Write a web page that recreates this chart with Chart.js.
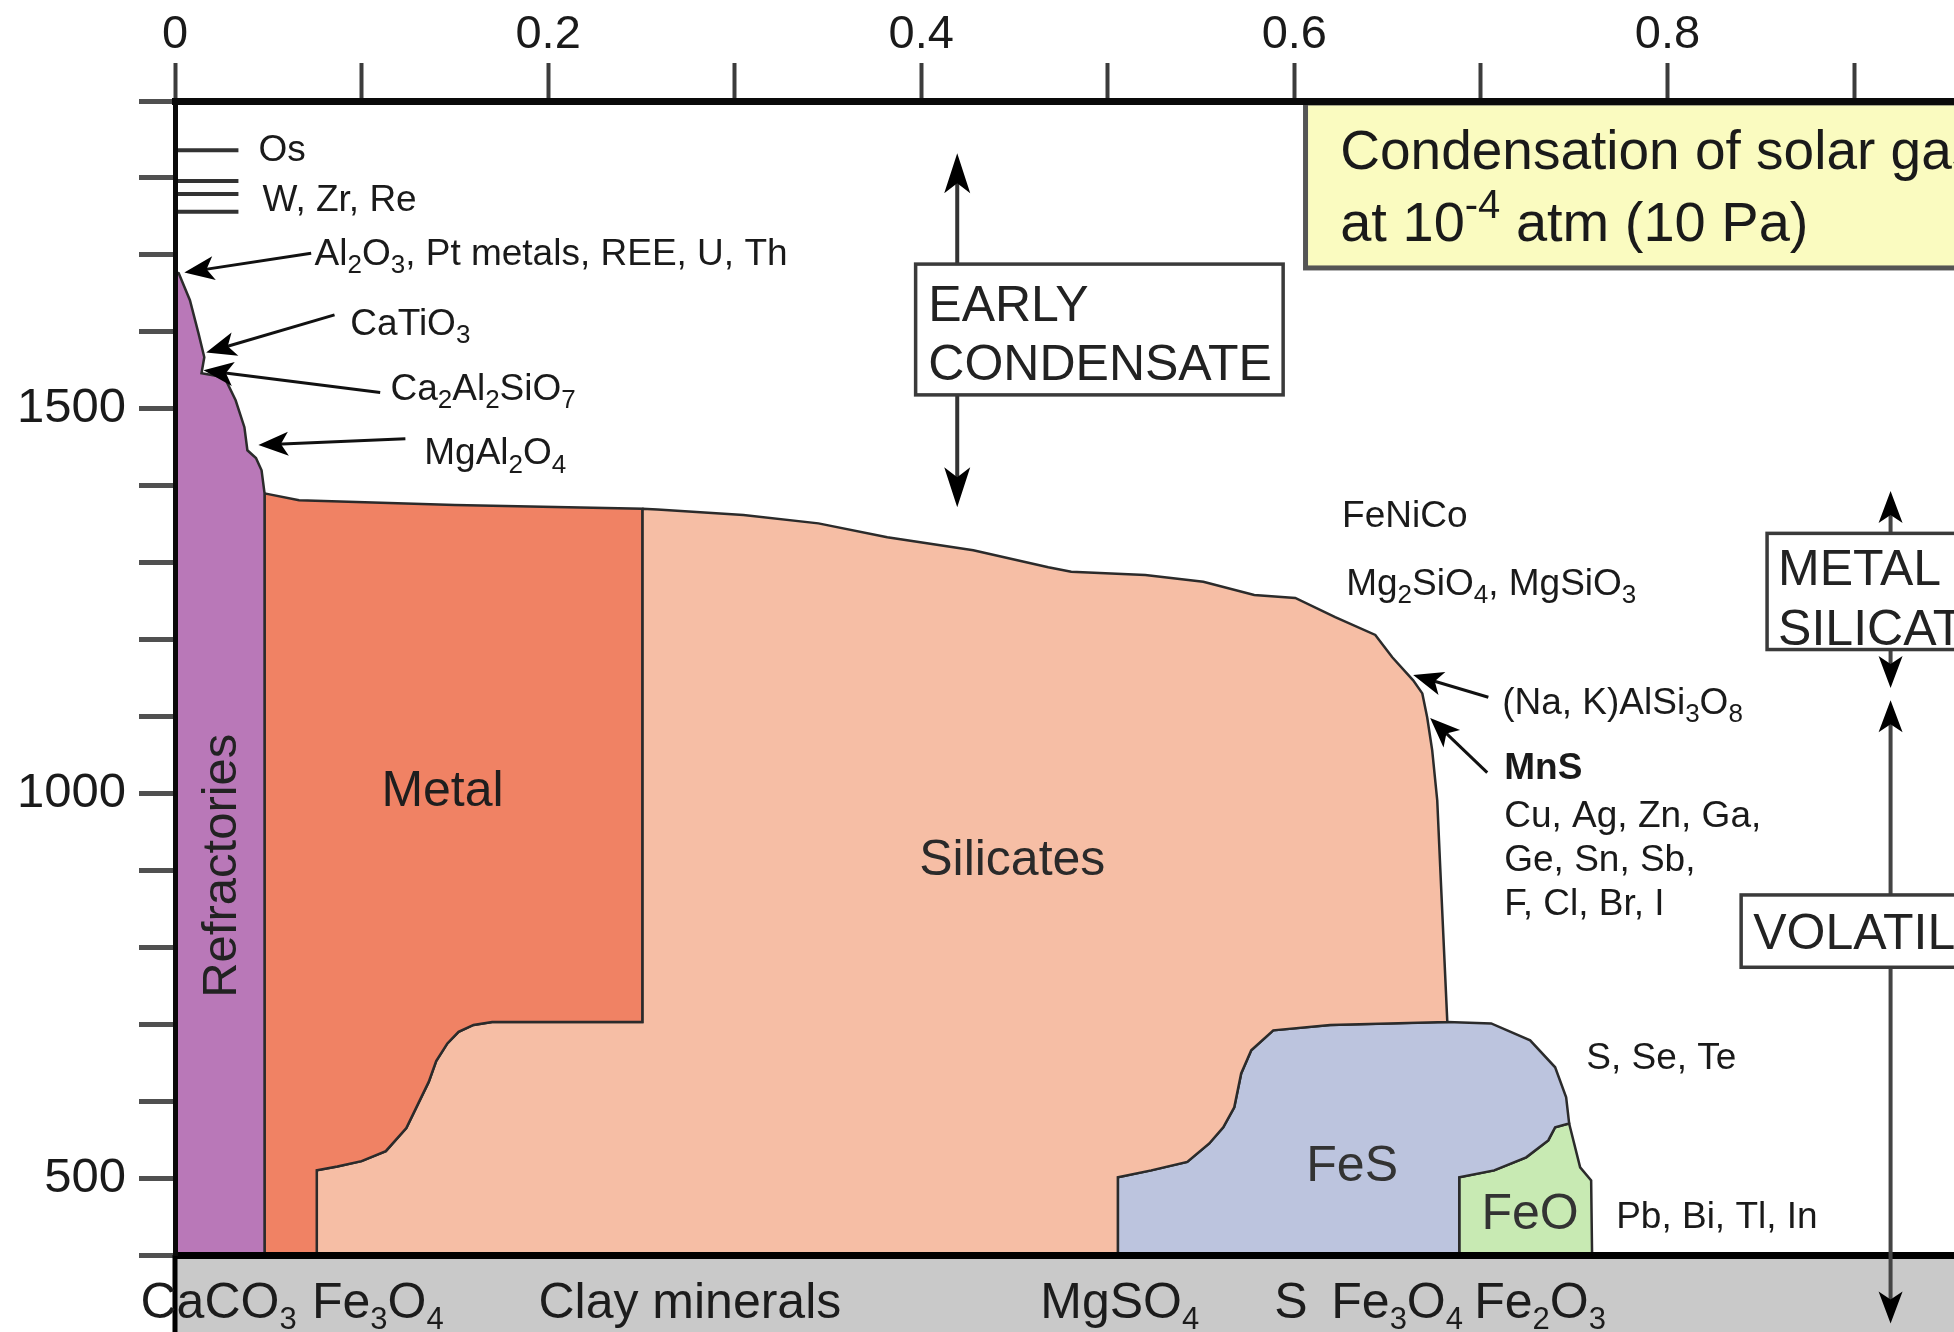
<!DOCTYPE html>
<html lang="en">
<head>
<meta charset="UTF-8">
<title>Condensation of solar gas</title>
<script src="https://cdn.jsdelivr.net/npm/chart.js"></script>
<style>
  body { margin: 0; padding: 0; overflow: hidden; background: white; }
  #wrap { width: 1954px; height: 1332px; }
</style>
</head>
<body>
<div id="wrap"><canvas id="chart"></canvas></div>
<script>
const FONT = "'Liberation Sans', Arial, sans-serif";

// axes
const xTickValues = [0, 0.1, 0.2, 0.3, 0.4, 0.5, 0.6, 0.7, 0.8, 0.9];
const xTickLabels = ['0', '', '0.2', '', '0.4', '', '0.6', '', '0.8', ''];
const yTickValues = [400, 500, 600, 700, 800, 900, 1000, 1100, 1200, 1300, 1400, 1500, 1600, 1700, 1800, 1900];
const yTickLabels = ['', '500', '', '', '', '', '1000', '', '', '', '', '1500', '', '', '', ''];

// region boundaries, [fraction condensed, temperature]
const refractoryEdge = [[0, 1678], [0.002, 1676], [0.008, 1641], [0.0126, 1598], [0.0157, 1567], [0.0142, 1546],
  [0.0265, 1541], [0.0325, 1511], [0.0372, 1476], [0.0388, 1446], [0.0434, 1436], [0.0464, 1420], [0.048, 1390]];
const metalTop = [[0.048, 1390], [0.0665, 1381], [0.15, 1375], [0.2505, 1370]];
const metalSilicateEdge = [[0.2505, 1370], [0.2505, 703], [0.17, 703], [0.16, 699], [0.152, 690], [0.146, 675],
  [0.14, 652], [0.136, 625], [0.131, 600], [0.124, 565], [0.113, 535], [0.1, 522], [0.087, 515], [0.076, 510], [0.076, 400]];
const silicateTop = [[0.2505, 1370], [0.2586, 1369], [0.3047, 1362], [0.3449, 1351], [0.3818, 1333], [0.4279, 1316],
  [0.4681, 1294], [0.4804, 1288], [0.5201, 1284], [0.5512, 1275], [0.5785, 1258], [0.6005, 1254], [0.6219, 1229],
  [0.6434, 1206], [0.6525, 1177], [0.6637, 1147], [0.6686, 1130], [0.6712, 1099], [0.6739, 1056], [0.6766, 991],
  [0.6782, 904], [0.6798, 819], [0.682, 703]];
const fesLeftTop = [[0.5054, 400], [0.5054, 501], [0.5233, 510], [0.5426, 521], [0.5544, 545], [0.5619, 566],
  [0.5678, 592], [0.5715, 636], [0.5769, 666], [0.5887, 692], [0.6192, 699], [0.682, 703]];
const fesRightTop = [[0.682, 703], [0.7055, 701], [0.7264, 679], [0.7398, 644], [0.7457, 605], [0.7473, 571]];
const fesFeoEdge = [[0.7473, 571], [0.7398, 566], [0.7361, 549], [0.7243, 527], [0.7071, 510], [0.6884, 501], [0.6884, 400]];
const feoRightEdge = [[0.7473, 571], [0.7532, 514], [0.7591, 497], [0.7596, 400]];

// condensation lines of the first metals (Os, W, Zr, Re)
const metalLineTemps = [1836, 1796, 1779, 1756];
const metalLineEnd = 0.034;

// mineral names under the plot
const bandLabels = ['CaCO{_3}', 'Fe{_3}O{_4}', 'Clay minerals', 'MgSO{_4}', 'S', 'Fe{_3}O{_4}', 'Fe{_2}O{_3}'];
const bandLabelX = [-0.0185, 0.0734, 0.1948, 0.4638, 0.5892, 0.6198, 0.6964];

const annotationLabels = [
  {text: 'Os', x: 0.0447, y: 1839},
  {text: 'W, Zr, Re', x: 0.0469, y: 1774},
  {text: 'Al{_2}O{_3}, Pt metals, REE, U, Th', x: 0.0748, y: 1704},
  {text: 'CaTiO{_3}', x: 0.094, y: 1613},
  {text: 'Ca{_2}Al{_2}SiO{_7}', x: 0.1155, y: 1529},
  {text: 'MgAl{_2}O{_4}', x: 0.1336, y: 1445},
  {text: 'FeNiCo', x: 0.6256, y: 1364},
  {text: 'Mg{_2}SiO{_4}, MgSiO{_3}', x: 0.6278, y: 1275},
  {text: '(Na, K)AlSi{_3}O{_8}', x: 0.7114, y: 1121},
  {text: 'MnS', x: 0.7125, y: 1036, bold: true},
  {text: 'Cu, Ag, Zn, Ga,', x: 0.7125, y: 973},
  {text: 'Ge, Sn, Sb,', x: 0.7125, y: 917},
  {text: 'F, Cl, Br, I', x: 0.7125, y: 859},
  {text: 'S, Se, Te', x: 0.7565, y: 659},
  {text: 'Pb, Bi, Tl, In', x: 0.7725, y: 452}
];
// tail x, tail y, head x, head y
const pointerArrows = [
  [0.073, 1702, 0.005, 1677],
  [0.0855, 1622, 0.0167, 1573],
  [0.110, 1521, 0.0153, 1550],
  [0.1235, 1461, 0.0447, 1453],
  [0.704, 1125, 0.6637, 1154],
  [0.7034, 1027, 0.6728, 1098]
];
const regionLabels = [
  {text: 'Metal', x: 0.1434, y: 1007, color: '#1e1e1e'},
  {text: 'Silicates', x: 0.4488, y: 917, color: '#2a2a2a'},
  {text: 'FeS', x: 0.631, y: 519, color: '#333'},
  {text: 'FeO', x: 0.7264, y: 457, color: '#333'}
];

// polygons
const refractories = [[0, 400], ...refractoryEdge, [0.048, 400], [0, 400]];
const metal = [...metalTop, ...metalSilicateEdge.slice(1), [0.048, 400], metalTop[0]];
const silicates = [...silicateTop, ...fesLeftTop.slice().reverse().slice(1), ...metalSilicateEdge.slice().reverse()];
const fes = [...fesLeftTop, ...fesRightTop.slice(1), ...fesFeoEdge.slice(1), fesLeftTop[0]];
const feo = [...fesFeoEdge.slice().reverse(), ...feoRightEdge.slice(1), [0.6884, 400]];

const toPts = arr => arr.map(p => ({x: p[0], y: p[1]}));

function region(label, pts, color) {
  return {
    label: label, data: toPts(pts), fill: 'shape', backgroundColor: color,
    borderColor: '#2b2b2b', borderWidth: 2.5, pointRadius: 0, tension: 0
  };
}

const datasets = [
  region('Refractories', refractories, '#b978b8'),
  region('Metal', metal, '#f08264'),
  region('Silicates', silicates, '#f6bea5'),
  region('FeS', fes, '#bcc4de'),
  region('FeO', feo, '#c8eab3')
];
metalLineTemps.forEach(t => {
  datasets.push({
    data: [{x: 0, y: t}, {x: metalLineEnd, y: t}], fill: false,
    borderColor: '#333', borderWidth: 4, pointRadius: 0
  });
});

function parseRich(str) {
  const parts = [];
  const re = /\{([_^])([^}]*)\}/g;
  let last = 0, m;
  while ((m = re.exec(str))) {
    if (m.index > last) parts.push({t: str.slice(last, m.index), k: ''});
    parts.push({t: m[2], k: m[1]});
    last = re.lastIndex;
  }
  if (last < str.length) parts.push({t: str.slice(last), k: ''});
  return parts;
}

function drawRich(ctx, str, x, y, size, opts) {
  opts = opts || {};
  const weight = opts.bold ? 'bold ' : '';
  const parts = parseRich(str);
  const fontFor = k => weight + (k ? Math.round(size * (opts.subScale || 0.65)) : size) + 'px ' + FONT;
  let w = 0;
  parts.forEach(p => { ctx.font = fontFor(p.k); p.w = ctx.measureText(p.t).width; w += p.w; });
  let cx = opts.align === 'center' ? x - w / 2 : x;
  ctx.textAlign = 'left';
  ctx.textBaseline = 'alphabetic';
  ctx.fillStyle = opts.color || '#1a1a1a';
  const base = y + size * 0.36;
  parts.forEach(p => {
    ctx.font = fontFor(p.k);
    const dy = p.k === '_' ? size * 0.22 : (p.k === '^' ? -size * 0.4 : 0);
    ctx.fillText(p.t, cx, base + dy);
    cx += p.w;
  });
}

function arrow(ctx, x1, y1, x2, y2, len, half, lw, color) {
  const a = Math.atan2(y2 - y1, x2 - x1);
  const c = Math.cos(a), s = Math.sin(a);
  const bx = x2 - len * c, by = y2 - len * s;
  ctx.strokeStyle = color;
  ctx.lineWidth = lw;
  ctx.beginPath();
  ctx.moveTo(x1, y1);
  ctx.lineTo(x2 - len * 0.6 * c, y2 - len * 0.6 * s);
  ctx.stroke();
  ctx.fillStyle = '#000';
  ctx.beginPath();
  ctx.moveTo(x2, y2);
  ctx.lineTo(bx - half * s, by + half * c);
  ctx.lineTo(x2 - len * 0.75 * c, y2 - len * 0.75 * s);
  ctx.lineTo(bx + half * s, by - half * c);
  ctx.closePath();
  ctx.fill();
}

function textBox(ctx, x0, y0, x1, y1, fill, stroke, lw) {
  ctx.fillStyle = fill;
  ctx.fillRect(x0, y0, x1 - x0, y1 - y0);
  ctx.strokeStyle = stroke;
  ctx.lineWidth = lw;
  ctx.strokeRect(x0, y0, x1 - x0, y1 - y0);
}

const decorPlugin = {
  id: 'decor',
  beforeDatasetsDraw(chart) {
    const ctx = chart.ctx, a = chart.chartArea;
    ctx.save();
    ctx.fillStyle = '#c9c9c9';
    ctx.fillRect(a.left, a.bottom, chart.width - a.left, chart.height - a.bottom);
    ctx.restore();
  },
  afterDatasetsDraw(chart) {
    const ctx = chart.ctx, a = chart.chartArea;
    const px = v => chart.scales.x.getPixelForValue(v);
    const py = v => chart.scales.y.getPixelForValue(v);
    ctx.save();

    // bottom line and axis running through the mineral band
    ctx.fillStyle = '#000';
    ctx.fillRect(a.left - 2, a.bottom - 3, chart.width, 7);
    ctx.fillRect(a.left - 2.5, a.bottom, 5, chart.height - a.bottom);

    bandLabels.forEach((t, i) => drawRich(ctx, t, px(bandLabelX[i]), 1300, 50, {color: '#1c1c1c', subScale: 0.62}));

    pointerArrows.forEach(p => arrow(ctx, px(p[0]), py(p[1]), px(p[2]), py(p[3]), 30, 12, 3, '#111'));
    annotationLabels.forEach(l => drawRich(ctx, l.text, px(l.x), py(l.y), 37, {bold: l.bold, subScale: 0.7}));

    regionLabels.forEach(l => drawRich(ctx, l.text, px(l.x), py(l.y), 50, {align: 'center', color: l.color}));
    ctx.save();
    ctx.translate(px(0.0233), py(906));
    ctx.rotate(-Math.PI / 2);
    drawRich(ctx, 'Refractories', 0, 0, 49, {align: 'center', color: '#222'});
    ctx.restore();

    // early condensate box and its arrows
    const ex = px(0.4193);
    arrow(ctx, ex, py(1688), ex, py(1832), 40, 13, 4, '#333');
    arrow(ctx, ex, py(1518), ex, py(1372), 40, 13, 4, '#333');
    textBox(ctx, px(0.397), py(1688), px(0.594), py(1518), '#fff', '#3a3a3a', 3.5);
    drawRich(ctx, 'EARLY', px(0.4038), py(1638), 50, {color: '#222'});
    drawRich(ctx, 'CONDENSATE', px(0.4038), py(1561), 50, {color: '#222'});

    // metal / silicate and volatile boxes
    const rx = px(0.9196);
    arrow(ctx, rx, py(1338), rx, py(1393), 32, 12, 4, '#444');
    arrow(ctx, rx, py(1187), rx, py(1137), 32, 12, 4, '#444');
    arrow(ctx, rx, py(868), rx, py(1121), 32, 12, 4, '#444');
    arrow(ctx, rx, py(774), rx, py(311), 32, 12, 4, '#444');
    textBox(ctx, px(0.8534), py(1338), chart.width + 20, py(1187), '#fff', '#3a3a3a', 3.5);
    drawRich(ctx, 'METAL', px(0.8593), py(1294), 50, {color: '#222'});
    drawRich(ctx, 'SILICATE', px(0.8593), py(1216), 50, {color: '#222'});
    textBox(ctx, px(0.8395), py(868), chart.width + 20, py(774), '#fff', '#3a3a3a', 3.5);
    drawRich(ctx, 'VOLATILE', px(0.846), py(821), 50, {color: '#222'});

    // title
    textBox(ctx, px(0.606), a.top + 2, chart.width + 20, py(1683), '#fafbc0', '#555', 5);
    drawRich(ctx, 'Condensation of solar gas', px(0.6246), py(1837), 55, {color: '#1a1a1a'});
    drawRich(ctx, 'at 10{^-4} atm (10 Pa)', px(0.6246), py(1744.5), 56, {color: '#1a1a1a', subScale: 0.72});

    ctx.restore();
  }
};

new Chart(document.getElementById('chart'), {
  type: 'line',
  data: {datasets: datasets},
  options: {
    responsive: true,
    maintainAspectRatio: false,
    animation: false,
    layout: {padding: {left: 0, right: 0, top: 0, bottom: 77}},
    plugins: {legend: {display: false}, tooltip: {enabled: false}},
    scales: {
      x: {
        type: 'linear', position: 'top', min: 0, max: 0.9536,
        afterBuildTicks: s => { s.ticks = xTickValues.map(v => ({value: v})); },
        afterFit: s => { s.height = 101; },
        grid: {drawOnChartArea: false, drawTicks: true, tickLength: 38, tickWidth: 4, tickColor: '#3c3c3c'},
        border: {display: true, color: '#0a0a0a', width: 7, z: 1},
        ticks: {
          autoSkip: false, maxRotation: 0, padding: 0, color: '#1a1a1a',
          font: {family: FONT, size: 47},
          callback: (v, i) => xTickLabels[i]
        }
      },
      y: {
        type: 'linear', position: 'left', min: 400, max: 1900,
        afterBuildTicks: s => { s.ticks = yTickValues.map(v => ({value: v})); },
        afterFit: s => { s.width = 175; },
        grid: {drawOnChartArea: false, drawTicks: true, tickLength: 36, tickWidth: 5, tickColor: '#505050'},
        border: {display: true, color: '#0a0a0a', width: 5, z: 1},
        ticks: {
          autoSkip: false, padding: 13, color: '#1a1a1a',
          font: {family: FONT, size: 49},
          callback: (v, i) => yTickLabels[i]
        }
      }
    }
  },
  plugins: [decorPlugin]
});
</script>
</body>
</html>
